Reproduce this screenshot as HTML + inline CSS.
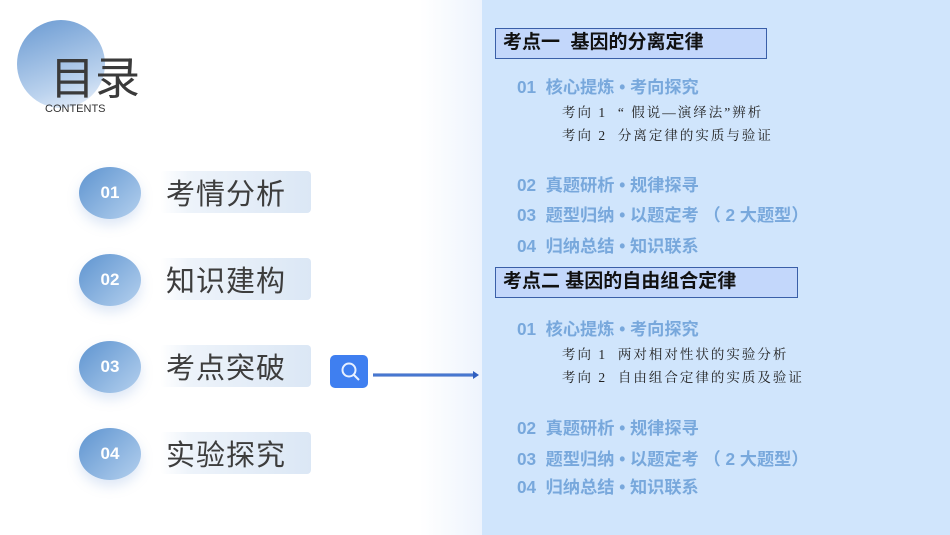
<!DOCTYPE html>
<html><head><meta charset="utf-8"><style>
*{margin:0;padding:0;box-sizing:border-box}
body{width:950px;height:535px;overflow:hidden;position:relative;background:#fff;font-family:"Liberation Sans","Noto Sans CJK SC",sans-serif}
.a{position:absolute;white-space:nowrap}
.fade{left:420px;top:0;width:62px;height:535px;background:linear-gradient(90deg,#fff,#eef4fd)}
.panel{left:482px;top:0;width:468px;height:535px;background:#d0e5fc}
.circ{width:62px;height:52px;border-radius:50%;background:linear-gradient(135deg,#5e94d0,#b4d0ee);box-shadow:0 6px 12px rgba(120,160,220,.25);color:#fff;font-weight:bold;font-size:17px;text-align:center;line-height:52px}
.lab{left:160px;width:151px;height:42px;border-radius:4px;background:linear-gradient(90deg,rgba(255,255,255,0) 0%,#edf3fa 20%,#dbe7f5 100%);font-size:29px;color:#3d3d3d;line-height:48px;padding-left:6px;letter-spacing:1px}
.box{left:495px;height:31px;border:1.5px solid #3a5fa8;background:#c3d7fb;font-weight:bold;font-size:19px;color:#111;line-height:28px;padding-left:7px}
.bl{left:517px;font-weight:bold;font-size:17.2px;color:#78a8dc}
.sv{left:562px;font-family:"Liberation Serif","Noto Serif CJK SC",serif;font-size:13.5px;color:#222;letter-spacing:2px}
</style></head><body>
<div class="a fade"></div>
<div class="a panel"></div>
<div class="a" style="left:17px;top:20px;width:88px;height:88px;border-radius:50%;background:linear-gradient(160deg,#6a9ad2,#bcd3ee 70%,#eef3fb)"></div>
<div class="a" style="left:50px;top:42px;font-size:45px;color:#3a3a3a">目录</div>
<div class="a" style="left:45px;top:103px;font-size:11px;color:#333">CONTENTS</div>

<div class="a circ" style="left:79px;top:167px">01</div>
<div class="a lab" style="top:171px">考情分析</div>
<div class="a circ" style="left:79px;top:254px">02</div>
<div class="a lab" style="top:258px">知识建构</div>
<div class="a circ" style="left:79px;top:341px">03</div>
<div class="a lab" style="top:345px">考点突破</div>
<div class="a circ" style="left:79px;top:428px">04</div>
<div class="a lab" style="top:432px">实验探究</div>

<div class="a" style="left:330px;top:355px;width:38px;height:33px;border-radius:5px;background:#3f7ff0"></div>
<svg class="a" style="left:330px;top:355px" width="150" height="35">
<circle cx="19" cy="15" r="6.5" fill="none" stroke="#e8f0ff" stroke-width="2"/>
<line x1="24" y1="20" x2="29" y2="25" stroke="#e8f0ff" stroke-width="2"/>
<line x1="43" y1="20" x2="144" y2="20" stroke="#2f5fc0" stroke-width="3"/>
<line x1="43" y1="20" x2="144" y2="20" stroke="#5f8fe0" stroke-width="1"/>
<polygon points="143,16 149,20 143,24" fill="#2f5fc0"/>
</svg>

<div class="a box" style="top:28px;width:272px">考点一&nbsp; 基因的分离定律</div>
<div class="a bl" style="top:73px">01&nbsp; 核心提炼 • 考向探究</div>
<div class="a sv" style="top:101px">考向 1 &nbsp;“ 假说—演绎法”辨析</div>
<div class="a sv" style="top:124px">考向 2 &nbsp;分离定律的实质与验证</div>
<div class="a bl" style="top:171px">02&nbsp; 真题研析 • 规律探寻</div>
<div class="a bl" style="top:201px">03&nbsp; 题型归纳 • 以题定考 （ 2 大题型）</div>
<div class="a bl" style="top:232px">04&nbsp; 归纳总结 • 知识联系</div>

<div class="a box" style="top:267px;width:303px">考点二 基因的自由组合定律</div>
<div class="a bl" style="top:315px">01&nbsp; 核心提炼 • 考向探究</div>
<div class="a sv" style="top:343px">考向 1 &nbsp;两对相对性状的实验分析</div>
<div class="a sv" style="top:366px">考向 2 &nbsp;自由组合定律的实质及验证</div>
<div class="a bl" style="top:414px">02&nbsp; 真题研析 • 规律探寻</div>
<div class="a bl" style="top:445px">03&nbsp; 题型归纳 • 以题定考 （ 2 大题型）</div>
<div class="a bl" style="top:473px">04&nbsp; 归纳总结 • 知识联系</div>
</body></html>
